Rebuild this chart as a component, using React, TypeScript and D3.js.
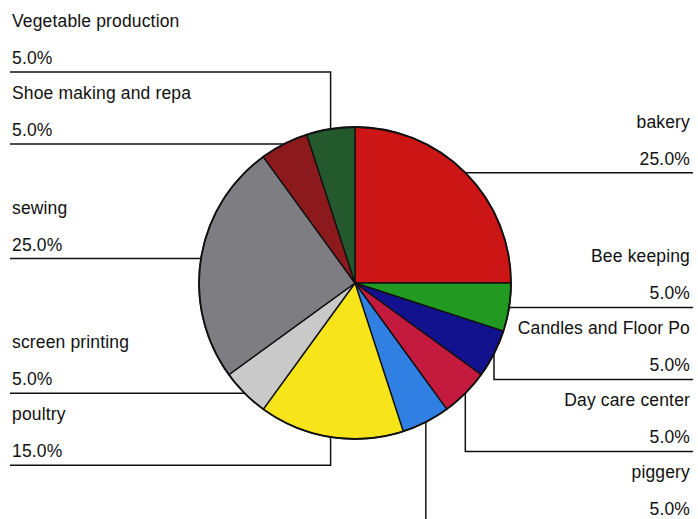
import React from "react";
import * as d3 from "d3";

const categories = [
  "bakery",
  "Bee keeping",
  "Candles and Floor Po",
  "Day care center",
  "piggery",
  "poultry",
  "screen printing",
  "sewing",
  "Shoe making and repa",
  "Vegetable production",
];
const values = [25, 5, 5, 5, 5, 15, 5, 25, 5, 5];
const colors = [
  "#cc1515",
  "#229a22",
  "#12128f",
  "#c41a3e",
  "#2f80e2",
  "#f7e41a",
  "#c9c9c9",
  "#7d7d82",
  "#8c1a1c",
  "#24592e",
];

const W = 698;
const H = 519;
const CX = 355;
const CY = 283;
const R = 156;
const GAP = 72;

export default function App() {
  const total = d3.sum(values);
  const pie = d3.pie<number>().sort(null).value((d) => d)(values);
  const arc = d3.arc<d3.PieArcDatum<number>>().innerRadius(0).outerRadius(R);

  type L = { i: number; ax: number; ay: number; right: boolean; ly: number };
  const labels: L[] = pie.map((p, i) => {
    const mid = (p.startAngle + p.endAngle) / 2;
    const ax = CX + R * Math.sin(mid);
    const ay = CY - R * Math.cos(mid);
    return { i, ax, ay, right: mid < Math.PI, ly: ay };
  });

  // layout: push upward for upper half, downward for lower half
  [true, false].forEach((right) => {
    const side = labels.filter((l) => l.right === right);
    const upper = side.filter((l) => l.ay < CY).sort((a, b) => b.ay - a.ay);
    const lower = side.filter((l) => l.ay >= CY).sort((a, b) => a.ay - b.ay);
    let prev = Infinity;
    upper.forEach((l) => {
      l.ly = Math.min(l.ay, prev - GAP);
      prev = l.ly;
    });
    prev = -Infinity;
    lower.forEach((l) => {
      l.ly = Math.max(l.ay, prev + GAP);
      prev = l.ly;
    });
  });

  const fmt = d3.format(".1f");

  return (
    <svg
      width={W}
      height={H}
      style={{ position: "absolute", left: 0, top: 0, background: "#fff" }}
      fontFamily="'Liberation Sans', Arial, sans-serif"
      fontSize={17.5}
      letterSpacing={0.15}
    >
      <g transform={`translate(${CX},${CY})`}>
        {pie.map((p, i) => (
          <path
            key={i}
            d={arc(p) || ""}
            fill={colors[i]}
            stroke="#111"
            strokeWidth={1.4}
          />
        ))}
        <circle r={R} fill="none" stroke="#111" strokeWidth={1.8} />
      </g>
      {labels.map((l) => {
        const endX = l.right ? 693 : 10;
        const tx = l.right ? 690 : 12;
        const anchor = l.right ? "end" : "start";
        const pts: [number, number][] = [
          [l.ax, l.ay],
          [l.ax, l.ly],
          [endX, l.ly],
        ];
        return (
          <g key={l.i}>
            <path
              d={d3.line()(pts) || ""}
              fill="none"
              stroke="#111"
              strokeWidth={1.5}
            />
            <text x={tx} y={l.ly - 45} textAnchor={anchor} fill="#111">
              {categories[l.i]}
            </text>
            <text x={tx} y={l.ly - 8} textAnchor={anchor} fill="#111">
              {fmt((values[l.i] / total) * 100)}%
            </text>
          </g>
        );
      })}
    </svg>
  );
}
